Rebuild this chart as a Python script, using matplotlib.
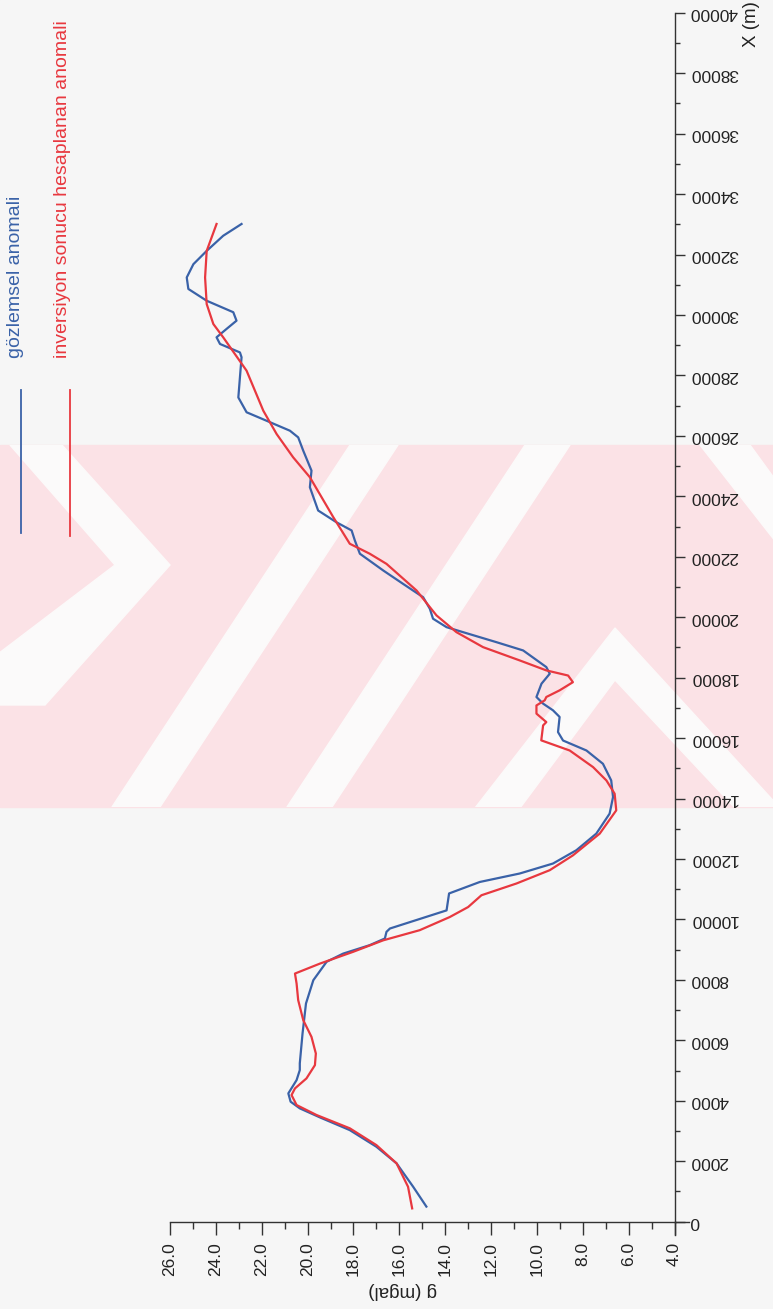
import matplotlib
matplotlib.use("Agg")
import matplotlib.pyplot as plt
from matplotlib.patches import Polygon, Rectangle
import numpy as np

plt.rcParams['font.family'] = ['Liberation Sans', 'DejaVu Sans']

# ---------------- data ----------------
obs_x = [500, 1160, 1930, 2480, 3030, 3450, 3750, 3970, 4245, 4685, 5015, 5240, 6230, 7220,
         7990, 8600, 8870, 9150, 9370, 9590, 9700, 10300, 10860, 11240, 11520, 11850, 12290,
         12840, 13500, 14050, 14600, 15150, 15590, 15920, 16200, 16700, 16920, 17140, 17360,
         17800, 18130, 18350, 18900, 19175, 19505, 19670, 19950, 20280, 20660, 21100, 21545,
         22100, 22540, 22870, 23140, 23530, 24300, 24850, 25510, 25950, 26170, 26500, 26780,
         27270, 27940, 28600, 28760, 29040, 29260, 29540, 29810, 30090, 30470, 30860, 31240,
         31680, 32120, 32620, 33010]
obs_g = [14.82, 15.40, 16.12, 17.00, 18.16, 19.46, 20.34, 20.74, 20.84, 20.48, 20.34, 20.34,
         20.22, 20.07, 19.75, 19.17, 18.45, 17.29, 16.63, 16.56, 16.41, 13.94, 13.83, 12.49,
         10.75, 9.30, 8.28, 7.41, 6.83, 6.68, 6.76, 7.12, 7.84, 8.86, 9.08, 9.01, 9.30, 9.73,
         10.02, 9.80, 9.44, 9.59, 10.60, 11.77, 13.22, 13.94, 14.53, 14.67, 14.96, 15.83, 16.70,
         17.72, 17.94, 18.08, 18.74, 19.54, 19.90, 19.83, 20.19, 20.41, 20.77, 21.79, 22.66,
         23.02, 22.95, 22.88, 22.95, 23.82, 23.97, 23.53, 23.10, 23.24, 24.40, 25.20, 25.27,
         24.98, 24.40, 23.68, 22.88]

inv_x = [440, 1157, 1930, 2535, 3090, 3530, 3860, 4190, 4410, 4740, 5180, 5565, 6115, 6670,
         7330, 7880, 8210, 8540, 8930, 9310, 9645, 10080, 10410, 10800, 11190, 11630, 12120,
         12840, 13610, 14160, 14600, 15040, 15590, 15925, 16420, 16530, 16810, 17080, 17250,
         17360, 17580, 17850, 18070, 18240, 18570, 19010, 19505, 20060, 20885, 21765, 22100,
         22430, 23310, 24630, 25290, 26060, 26830, 28155, 29260, 29700, 30360, 31240, 32120,
         33010]
inv_g = [15.44, 15.62, 16.12, 17.00, 18.16, 19.61, 20.48, 20.70, 20.55, 20.05, 19.68, 19.64,
         19.83, 20.19, 20.41, 20.48, 20.55, 19.46, 18.01, 16.70, 15.11, 13.80, 13.00, 12.42,
         10.89, 9.44, 8.43, 7.26, 6.54, 6.61, 6.97, 7.55, 8.57, 9.81, 9.73, 9.59, 10.02, 10.02,
         9.66, 9.59, 9.01, 8.43, 8.64, 9.59, 10.75, 12.35, 13.51, 14.38, 15.25, 16.56, 17.29,
         18.16, 18.88, 19.90, 20.63, 21.35, 21.93, 22.66, 23.68, 24.11, 24.40, 24.47, 24.40,
         23.97]

g_ticks = [26.0, 24.0, 22.0, 20.0, 18.0, 16.0, 14.0, 12.0, 10.0, 8.0, 6.0, 4.0]
x_ticks = list(range(0, 40001, 2000))
legend_labels = ["gözlemsel anomali", "inversiyon sonucu hesaplanan anomali"]
blue = '#3a62a8'
red = '#e8383f'

W, H = 773, 1309
fig = plt.figure(figsize=(W / 100, H / 100), dpi=100)
fig.patch.set_facecolor('#f5f5f5')

# ---------- background / watermark (pixel coords) ----------
bg = fig.add_axes([0, 0, 1, 1], zorder=-5)
bg.set_xlim(0, W)
bg.set_ylim(H, 0)
bg.axis('off')
bg.add_patch(Rectangle((0, 0), W, H, color='#f6f6f6', zorder=0))
band = Rectangle((0, 445), W, 362, color='#fbe2e6', zorder=1)
bg.add_patch(band)
white = '#fbfafa'
shapes = [
    # left ">" chevron
    [(10, 445), (62, 445), (170, 565), (45, 705), (-10, 705), (-10, 660), (115, 565)],
    # "/" stripes
    [(350, 445), (398, 445), (160, 807), (112, 807)],
    [(525, 445), (570, 445), (332, 807), (287, 807)],
    # right "^" chevron
    [(615, 628), (780, 808), (735, 808), (615, 680), (520, 808), (475, 808)],
    # upper right "\" stripe
    [(700, 445), (750, 445), (790, 500), (790, 560)],
]
for s in shapes:
    p = Polygon(s, closed=True, color=white, zorder=2)
    bg.add_patch(p)
    p.set_clip_path(band)

# ---------------- main axes ----------------
x0, x1 = 170, 674.5
y_top, y_bot = 12.7, 1221.7
ax = fig.add_axes([x0 / W, (H - y_bot) / H, (x1 - x0) / W, (y_bot - y_top) / H])
ax.patch.set_alpha(0)

ax.plot(obs_g, obs_x, color=blue, lw=1.6, solid_joinstyle='round', zorder=3)
ax.plot(inv_g, inv_x, color=red, lw=1.6, solid_joinstyle='round', zorder=4)

ax.set_xlim(26, 4)
ax.set_ylim(0, 40000)

for s in ['left', 'top']:
    ax.spines[s].set_visible(False)
for s in ['right', 'bottom']:
    ax.spines[s].set_color('#333333')
    ax.spines[s].set_linewidth(1.0)

# extend spines beyond origin
ax.plot([1, 1 + 14 / (x1 - x0)], [0, 0], transform=ax.transAxes, color='#333333',
        lw=1.0, clip_on=False)
ax.plot([1, 1], [0, -13 / (y_bot - y_top)], transform=ax.transAxes, color='#333333',
        lw=1.0, clip_on=False)

ax.yaxis.tick_right()
ax.set_xticks(g_ticks)
ax.set_xticklabels([f"{v:.1f}" for v in g_ticks])
ax.set_xticks(np.arange(5, 26, 2), minor=True)
ax.set_yticks(x_ticks)
ax.set_yticklabels([str(v) for v in x_ticks])
ax.set_yticks(np.arange(1000, 40000, 2000), minor=True)

ax.tick_params(axis='x', which='major', direction='out', length=9.5, width=1.0,
               color='#333333', labelsize=12.5, pad=5, labelrotation=90)
ax.tick_params(axis='x', which='minor', direction='out', length=5, width=1.0,
               color='#333333')
ax.tick_params(axis='y', which='major', direction='out', length=7, width=1.0,
               color='#333333', labelsize=12.5, pad=4, labelrotation=180)
ax.tick_params(axis='y', which='minor', direction='out', length=3.5, width=1.0,
               color='#333333')
for t in ax.get_yticklabels():
    t.set_verticalalignment('center')
    t.set_color('#222222')
for t in ax.get_xticklabels():
    t.set_color('#222222')

# axis titles (as in the rotated scan)
fig.text(403 / W, 1 - 1291 / H, "g (mgal)", rotation=180, ha='center', va='center',
         fontsize=13.5, color='#222222')
fig.text(752 / W, 1 - 24 / H, "X (m)", rotation=90, ha='center', va='center',
         fontsize=13.5, color='#222222')

# legend (vertical)
fig.add_artist(plt.Line2D([21 / W, 21 / W], [1 - 390 / H, 1 - 533 / H], color=blue, lw=1.3))
fig.add_artist(plt.Line2D([70 / W, 70 / W], [1 - 390 / H, 1 - 536 / H], color=red, lw=1.3))
fig.text(16 / W, 1 - 358 / H, legend_labels[0], rotation=90, ha='center', va='bottom',
         fontsize=14, color=blue)
fig.text(63 / W, 1 - 358 / H, legend_labels[1], rotation=90, ha='center', va='bottom',
         fontsize=14, color=red)

fig.savefig("out.png", dpi=100, facecolor=fig.get_facecolor())
